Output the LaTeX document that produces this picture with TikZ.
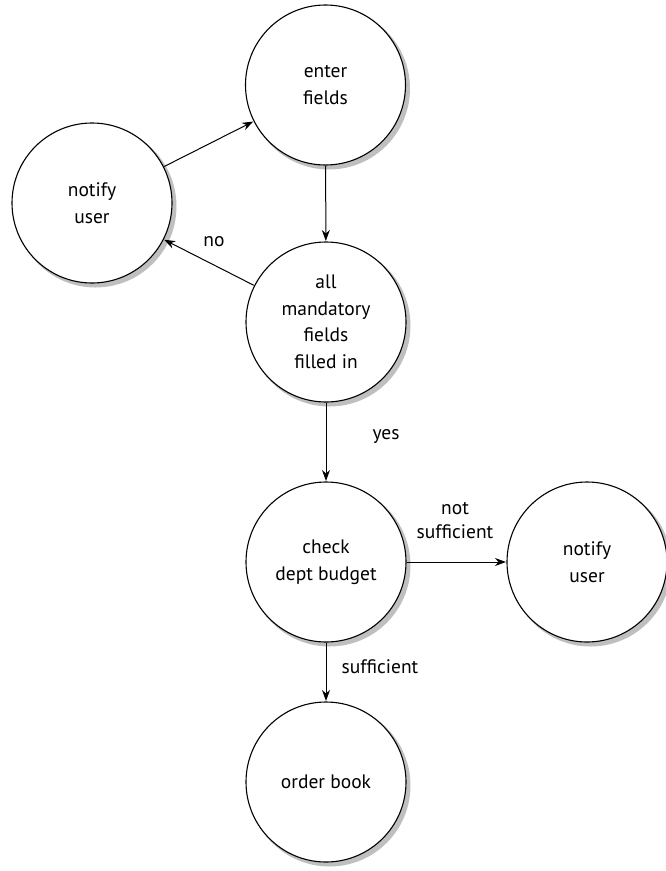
\documentclass[tikz,border=0pt]{standalone}
\usepackage{fontspec}
\setmainfont{PT Sans}
\usetikzlibrary{arrows.meta}
\tikzset{
  state/.style={circle, draw=black, fill=white, line width=1.1pt, minimum size=160pt, inner sep=0pt, align=center, font=\fontsize{19.5}{26.5}\selectfont},
  shadowc/.style={circle, fill=black!25, minimum size=162pt, inner sep=0pt},
  arr/.style={-{Stealth[length=11pt,width=8pt]}, line width=1pt, shorten >=0.5pt, shorten <=0.5pt},
  lbl/.style={font=\fontsize{19.5}{24}\selectfont, align=center}
}
\begin{document}
\begin{tikzpicture}[x=1pt,y=-1pt]
\useasboundingbox (0,0) rectangle (666,871);
% shadows
\foreach \cx/\cy [count=\i] in {325.5/85,92/203,326/322,326/562,587/562,326/782}{
  \node[shadowc] (sh\i) at (\cx+3.5,\cy+3.5) {};
}
\node[state] (enter) at (325.5,85) {enter\\fields};
\node[state] (nl) at (92,203) {notify\\user};
\node[state] (all) at (326,322) {all\\mandatory\\fields\\filled in};
\node[state] (check) at (326,562) {check\\dept budget};
\node[state] (nr) at (587,562) {notify\\user};
\node[state] (order) at (326,782) {order book};
\draw[arr] (nl) -- (enter);
\draw[arr] (enter) -- (all);
\draw[arr] (all) -- (nl);
\draw[arr] (all) -- (check);
\draw[arr] (check) -- (nr);
\draw[arr] (check) -- (order);
\node[lbl] (lno) at (214,242) {no};
\node[lbl] (lyes) at (386,436) {yes};
\node[lbl] (lns) at (455,521) {not\\sufficient};
\node[lbl] (lsuf) at (380,667) {sufficient};
\end{tikzpicture}
\end{document}
